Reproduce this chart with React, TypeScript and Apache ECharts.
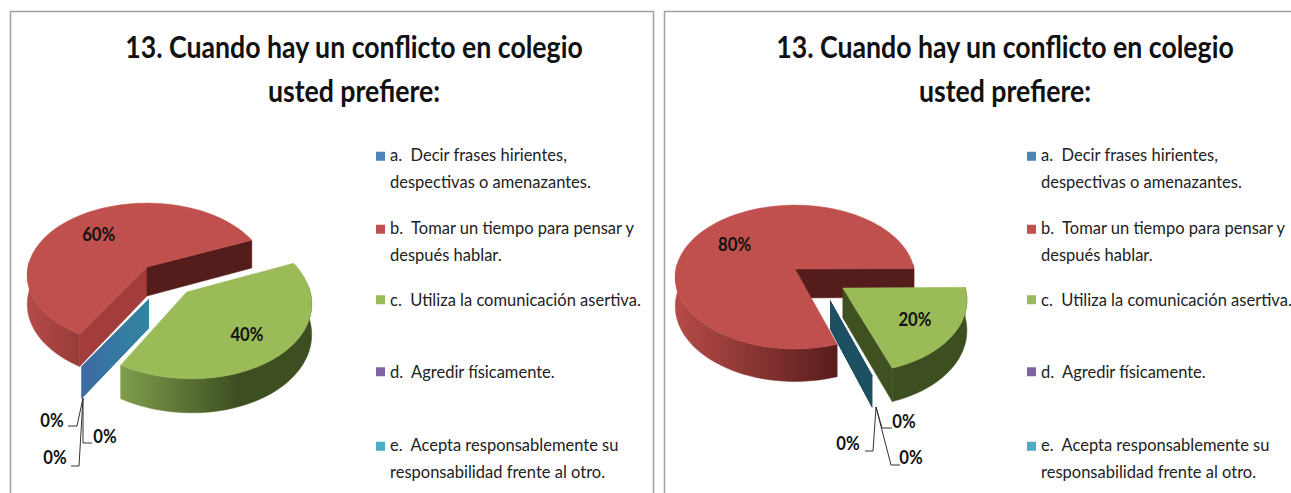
import React, { useEffect, useRef } from "react";
import * as echarts from "echarts";

const categories = [
  "a.  Decir frases hirientes,\ndespectivas o amenazantes.",
  "b.  Tomar un tiempo para pensar y\ndespués hablar.",
  "c.  Utiliza la comunicación asertiva.",
  "d.  Agredir físicamente.",
  "e.  Acepta responsablemente su\nresponsabilidad frente al otro.",
];
const titleText = "13. Cuando hay un conflicto en colegio\nusted prefiere:";
const valuesLeft = [0, 60, 40, 0, 0];
const valuesRight = [0, 80, 20, 0, 0];
const legendColors = ["#4f81bd", "#c0504d", "#9bbb59", "#8064a2", "#4bacc6"];

const FONT = "Lato, sans-serif";
const K = 0.111;
const RX = 119;
const RY = 71;
const T = 29;
const rad = (d: number) => (d * Math.PI) / 180;

type Panel = {
  cx: number; cy: number; startAngle: number; explode: number[];
  zeroShift: number[]; wall: any; order: number[];
  titleX: number; legendIcon: number; frameX: number; frameW: number;
  leaders: number[][][]; zeroLabels: number[][];
};

const panels: { values: number[]; cfg: Panel }[] = [
  {
    values: valuesLeft,
    cfg: {
      cx: 147, cy: 267, startAngle: 120.8, explode: [0.32, 0.34], zeroShift: [2, 32],
      wall: ["#3c6aa2", "#2f86a2"],
      order: [1, 4, 3, 0, 2], titleX: 354, legendIcon: 376, frameX: 10.5, frameW: 643,
      leaders: [
        [[83, 398], [77, 426], [68, 426]],
        [[83, 398], [83, 443], [92, 443]],
        [[83, 398], [79, 466], [71, 466]],
      ],
      zeroLabels: [[52, 420], [105, 436], [55, 457]],
    },
  },
  {
    values: valuesRight,
    cfg: {
      cx: 795, cy: 269, startAngle: 71.5, explode: [0.39, 0.26], zeroShift: [35, 31],
      wall: ["#1e5064", "#1e5064"],
      order: [1, 0, 3, 4, 2], titleX: 1005, legendIcon: 1027, frameX: 664.5, frameW: 640,
      leaders: [
        [[876, 407], [882, 428], [892, 428]],
        [[876, 407], [873, 451], [865, 451]],
        [[876, 407], [891, 465], [900, 465]],
      ],
      zeroLabels: [[904, 421], [848, 443], [911, 457]],
    },
  },
];

const legendRowCenters = [155, 228, 300, 372, 445];

// Projects a point of the pie plane (unit circle) to the page, with perspective.
function project(c: Panel, x: number, y: number, down = 0) {
  const w = 1 - K * y;
  return [c.cx + (RX * x) / w, c.cy + (RY * y) / w + (down * T) / w];
}

function rimPoints(c: Panel, a0: number, a1: number, off: number[], down: number) {
  const n = Math.max(2, Math.ceil(Math.abs(a1 - a0) / 3));
  const pts: number[][] = [];
  for (let i = 0; i <= n; i++) {
    const a = rad(a0 + ((a1 - a0) * i) / n);
    pts.push(project(c, Math.cos(a) + off[0], Math.sin(a) + off[1], down));
  }
  return pts;
}

function labelEl(t: string, p: number[]) {
  return {
    type: "text",
    silent: true,
    z2: 20,
    x: p[0],
    y: p[1],
    scaleX: 0.88,
    style: {
      text: t, x: 0, y: 0, fill: "#111", align: "center", verticalAlign: "middle",
      font: `bold 19px ${FONT}`,
    },
  };
}

function sliceChildren(c: Panel, value: number, before: number, catIndex: number) {
  const a0 = c.startAngle + before * 3.6;
  const a1 = a0 + value * 3.6;
  const children: any[] = [];

  if (value === 0) {
    // A zero share leaves only its wall, below the neighbouring slice's cut face.
    const a = rad(a0);
    const tip = [Math.cos(a), Math.sin(a)];
    const s = c.zeroShift;
    const pt = (x: number, y: number, d: number) => {
      const p = project(c, x, y, d);
      return [p[0] + s[0], p[1] + s[1]];
    };
    const pts = [pt(0, 0, 0), pt(tip[0], tip[1], 0), pt(tip[0], tip[1], 1), pt(0, 0, 1)];
    return { children, pts };
  }

  const isRed = catIndex === 1;
  const off = isRed ? [0, 0] : c.explode;
  const topColor = legendColors[catIndex];
  const dark = isRed ? "#541c1b" : "#3f5120";
  const mid = isRed ? "#a23d3b" : "#6f8a3f";
  const sideFill = isRed
    ? new echarts.graphic.LinearGradient(c.cx - 119, 0, c.cx + 41, 0,
        [{ offset: 0, color: "#b54b48" }, { offset: 1, color: "#5a1d1c" }], true)
    : new echarts.graphic.LinearGradient(c.cx - 25, 0, c.cx + 90, 0,
        [{ offset: 0, color: "#7f9d4b" }, { offset: 1, color: "#3d4f20" }], true);

  // outer side: the part of the rim that faces the viewer
  for (const turn of [-360, 0, 360]) {
    const lo = Math.max(a0, turn - 4);
    const hi = Math.min(a1, turn + 184);
    if (hi > lo) {
      const top = rimPoints(c, lo, hi, off, 0);
      const bottom = rimPoints(c, hi, lo, off, 1);
      const pts = top.concat(bottom);
      children.push({ type: "polygon", silent: true, shape: { points: pts }, style: { fill: sideFill, stroke: sideFill, lineWidth: 0.5 } });
    }
  }
  // cut faces, where they face the viewer
  const wall = (angle: number, normal: number) => {
    if (Math.sin(rad(normal)) <= 0) return;
    const a = rad(angle);
    const tx = Math.cos(a) + off[0];
    const ty = Math.sin(a) + off[1];
    const n = ((normal % 360) + 360) % 360;
    const fill = n < 45 ? mid : dark;
    children.push({
      type: "polygon", silent: true,
      shape: { points: [project(c, off[0], off[1]), project(c, tx, ty), project(c, tx, ty, 1), project(c, off[0], off[1], 1)] },
      style: { fill, stroke: fill, lineWidth: 0.5 },
    });
  };
  wall(a0, a0 - 90);
  wall(a1, a1 + 90);
  // top face
  const topPts = [project(c, off[0], off[1])].concat(rimPoints(c, a0, a1, off, 0));
  children.push({ type: "polygon", silent: true, shape: { points: topPts }, style: { fill: topColor, stroke: topColor, lineWidth: 0.5 } });
  // value label
  const mida = rad((a0 + a1) / 2);
  const r = isRed ? 0.65 : 0.67;
  children.push(labelEl(`${value}%`, project(c, off[0] + r * Math.cos(mida), off[1] + r * Math.sin(mida))));
  return { children, pts: null };
}

function buildSeries() {
  const series: any[] = [];
  panels.forEach(({ values, cfg }) => {
    let zeroSeen = 0;
    cfg.order.forEach((catIndex, drawIndex) => {
      const value = values[catIndex];
      const before = values.slice(0, catIndex).reduce((s, v) => s + v, 0);
      const zeroNo = value === 0 ? zeroSeen++ : -1;
      series.push({
        type: "custom",
        name: categories[catIndex],
        coordinateSystem: "none",
        silent: true,
        z: 2 + drawIndex,
        itemStyle: { color: legendColors[catIndex] },
        data: [[value, before]],
        renderItem: (_p: any, api: any) => {
          const v = api.value(0);
          const res: any = sliceChildren(cfg, v, api.value(1), catIndex);
          const children = res.children;
          if (v === 0) {
            const fill = new echarts.graphic.LinearGradient(
              res.pts[1][0], 0, res.pts[0][0], 0,
              [{ offset: 0, color: cfg.wall[0] }, { offset: 1, color: cfg.wall[1] }], true);
            children.push({ type: "polygon", silent: true, shape: { points: res.pts }, style: { fill } });
            const lead = cfg.leaders[zeroNo];
            children.push({ type: "polyline", silent: true, z2: 15, shape: { points: lead }, style: { stroke: "#333", lineWidth: 1, fill: "none" } });
            children.push(labelEl(`${v}%`, cfg.zeroLabels[zeroNo]));
          }
          return { type: "group", children };
        },
      });
    });
  });
  return series;
}

function legendIconPath(twoLine: boolean) {
  return twoLine
    ? "path://M0 0L0.01 0M0 55L0.01 55M0 9H10V19H0Z"
    : "path://M0 0H10V10H0Z";
}

function buildLegends() {
  const legends: any[] = [];
  panels.forEach(({ cfg }) => {
    categories.forEach((name, i) => {
      const twoLine = name.includes("\n");
      legends.push({
        data: [name],
        left: cfg.legendIcon,
        top: legendRowCenters[i] - 14,
        padding: 0,
        orient: "vertical",
        selectedMode: false,
        itemWidth: 9,
        itemHeight: twoLine ? 55 : 27,
        icon: legendIconPath(twoLine),
        textStyle: { fontFamily: FONT, fontSize: 16.5, lineHeight: 27.5, color: "#222" },
      });
    });
  });
  return legends;
}

export default function App() {
  const ref = useRef<HTMLDivElement>(null);
  useEffect(() => {
    const chart = echarts.init(ref.current!, undefined, { renderer: "svg" });
    const frames = panels.map(({ cfg }) => ({
      type: "rect",
      silent: true,
      z: -1,
      shape: { x: cfg.frameX, y: 11.5, width: cfg.frameW, height: 500 },
      style: { fill: "#ffffff", stroke: "#a0a0a0", lineWidth: 1.5 },
    }));
    const titles = panels.map(({ cfg }) => ({
      type: "text",
      silent: true,
      z: 5,
      x: cfg.titleX,
      y: 24,
      scaleX: 0.89,
      style: {
        text: titleText, x: 0, y: 0, align: "center", verticalAlign: "top",
        lineHeight: 44, fill: "#111", font: `bold 30px ${FONT}`,
      },
    }));
    chart.setOption({
      animation: false,
      backgroundColor: "#ffffff",
      legend: buildLegends(),
      graphic: [...frames, ...titles],
      series: buildSeries(),
    });
    return () => chart.dispose();
  }, []);
  return <div ref={ref} style={{ position: "fixed", left: 0, top: 0, width: 1291, height: 493 }} />;
}
